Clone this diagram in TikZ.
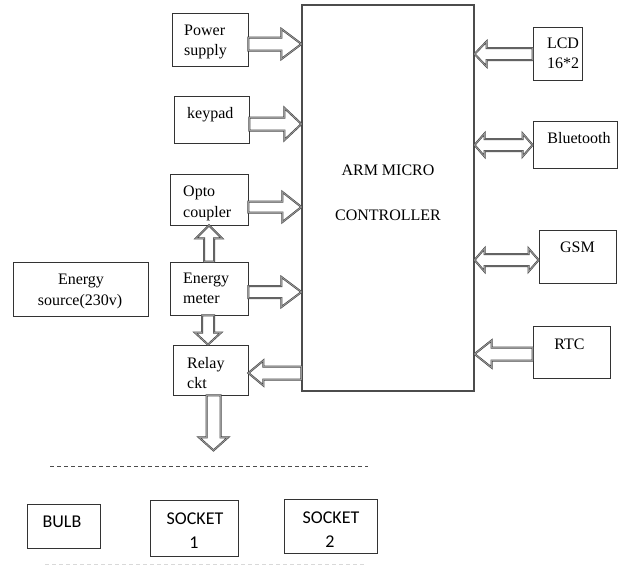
\documentclass[tikz,border=0pt]{standalone}
\usepackage{fontspec}
\usetikzlibrary{calc}
\setmainfont{Liberation Serif}
\newfontfamily\carlfont{Carlito}
\tikzset{
  box/.style={draw=black!80, line width=0.8pt, rectangle, inner sep=0pt, fill=white},
  ctrlbox/.style={draw=black!70, line width=1.1pt, rectangle, inner sep=0pt},
  txt/.style={inner sep=0pt, font=\rmfamily\fontsize{16}{20}\selectfont, text=black},
  ctxt/.style={inner sep=0pt, font=\carlfont\fontsize{18}{22}\selectfont, text=black},
  barrow/.style={draw=black!72, line width=0.6pt, double=black!40, double distance=0.8pt, line join=miter, fill=white},
}
% horizontal single block arrow: #1 tail, #2 tip, #3 signed head length offset, #4 head half width, #5 shaft half width
\newcommand\harrow[5]{\draw[barrow] ($(#1)+(0,-#5)$) -- ($(#2)+(#3,-#5)$) -- ($(#2)+(#3,-#4)$) -- (#2) -- ($(#2)+(#3,#4)$) -- ($(#2)+(#3,#5)$) -- ($(#1)+(0,#5)$) -- cycle;}
% horizontal double block arrow: #1 left tip, #2 right tip, #3 head length, #4 head half width, #5 shaft half width
\newcommand\hdarrow[5]{\draw[barrow] (#1) -- ($(#1)+(#3,-#4)$) -- ($(#1)+(#3,-#5)$) -- ($(#2)+(-#3,-#5)$) -- ($(#2)+(-#3,-#4)$) -- (#2) -- ($(#2)+(-#3,#4)$) -- ($(#2)+(-#3,#5)$) -- ($(#1)+(#3,#5)$) -- ($(#1)+(#3,#4)$) -- cycle;}
% vertical single block arrow
\newcommand\varrow[5]{\draw[barrow] ($(#1)+(-#5,0)$) -- ($(#2)+(-#5,#3)$) -- ($(#2)+(-#4,#3)$) -- (#2) -- ($(#2)+(#4,#3)$) -- ($(#2)+(#5,#3)$) -- ($(#1)+(#5,0)$) -- cycle;}
\begin{document}
\begin{tikzpicture}[x=1pt,y=-1pt]
\useasboundingbox (0,0) rectangle (632,565);

% boxes
\node[ctrlbox, minimum width=172pt, minimum height=386pt] (ctrl) at (388,198) {};
\node[box, minimum width=76pt, minimum height=53pt] (ps) at (210,39.5) {};
\node[box, minimum width=75pt, minimum height=47pt] (kp) at (211.5,119.5) {};
\node[box, minimum width=78pt, minimum height=51pt] (oc) at (209,199.5) {};
\node[box, minimum width=78pt, minimum height=53pt] (em) at (209,288.5) {};
\node[box, minimum width=75pt, minimum height=50pt] (rc) at (210.5,370) {};
\node[box, minimum width=135pt, minimum height=54pt] (es) at (80.5,289) {};
\node[box, minimum width=49pt, minimum height=53pt] (lcd) at (557.5,53.5) {};
\node[box, minimum width=84pt, minimum height=47pt] (bt) at (575,144.5) {};
\node[box, minimum width=77pt, minimum height=53pt] (gsm) at (577.5,256.5) {};
\node[box, minimum width=77pt, minimum height=52pt] (rtc) at (571.5,352) {};
\node[box, minimum width=73pt, minimum height=44pt] (bulb) at (63.5,526) {};
\node[box, minimum width=88pt, minimum height=56pt] (s1) at (194,528) {};
\node[box, minimum width=93pt, minimum height=54pt] (s2) at (330.5,526) {};

% texts
\node[txt, anchor=base] at (388,175) {ARM MICRO};
\node[txt, anchor=base] at (388,220) {CONTROLLER};
\node[txt, anchor=base west] at (184,35) {Power};
\node[txt, anchor=base west] at (184,55) {supply};
\node[txt, anchor=base west] at (187,118) {keypad};
\node[txt, anchor=base west] at (183,196) {Opto};
\node[txt, anchor=base west] at (183,217) {coupler};
\node[txt, anchor=base west] at (183,283) {Energy};
\node[txt, anchor=base west] at (183,303) {meter};
\node[txt, anchor=base west] at (187,368) {Relay};
\node[txt, anchor=base west] at (187,388) {ckt};
\node[txt, anchor=base] at (81,284) {Energy};
\node[txt, anchor=base] at (80,305) {source(230v)};
\node[txt, anchor=base] at (563,48) {LCD};
\node[txt, anchor=base] at (563,68) {16*2};
\node[txt, anchor=base] at (579,143) {Bluetooth};
\node[txt, anchor=base] at (577.5,252) {GSM};
\node[txt, anchor=base] at (569.5,349) {RTC};
\node[ctxt, anchor=base] at (62,527) {BULB};
\node[ctxt, anchor=base] at (195,524) {SOCKET};
\node[ctxt, anchor=base] at (194,548) {1};
\node[ctxt, anchor=base] at (331,523) {SOCKET};
\node[ctxt, anchor=base] at (330,547) {2};

% connector end points
\coordinate (a1s) at (ps.east |- 0,44);   \coordinate (a1e) at (ctrl.west |- 0,44);
\coordinate (a2s) at (kp.east |- 0,124);  \coordinate (a2e) at (ctrl.west |- 0,124);
\coordinate (a3s) at (oc.east |- 0,207);  \coordinate (a3e) at (ctrl.west |- 0,207);
\coordinate (a4s) at (em.east |- 0,292);  \coordinate (a4e) at (ctrl.west |- 0,292);
\coordinate (a5s) at (em.north);          \coordinate (a5e) at (em.north |- oc.south);
\coordinate (a6s) at ($(em.south)+(-1,0)$); \coordinate (a6e) at (a6s |- rc.north);
\coordinate (a7s) at ($(rc.south)+(3,0)$);  \coordinate (a7e) at ($(a7s)+(0,55)$);
\coordinate (a8s) at (ctrl.west |- 0,373); \coordinate (a8e) at (rc.east |- 0,373);
\coordinate (a9s) at (lcd.west |- 0,54);  \coordinate (a9e) at (ctrl.east |- 0,54);
\coordinate (b1l) at (ctrl.east |- 0,145); \coordinate (b1r) at (bt.west |- 0,145);
\coordinate (b2l) at (ctrl.east |- 0,260); \coordinate (b2r) at (gsm.west |- 0,260);
\coordinate (a10s) at (rtc.west |- 0,354); \coordinate (a10e) at (ctrl.east |- 0,354);

% block arrows
\harrow{a1s}{a1e}{-20}{15}{6.5}
\harrow{a2s}{a2e}{-17}{16}{6.5}
\harrow{a3s}{a3e}{-19}{15}{5.5}
\harrow{a4s}{a4e}{-20}{15}{6}
\varrow{a5s}{a5e}{13}{13}{5}
\varrow{a6s}{a6e}{-12}{13}{6}
\varrow{a7s}{a7e}{-13}{14.5}{7}
\harrow{a8s}{a8e}{15}{12.5}{6.5}
\harrow{a9s}{a9e}{12}{12.5}{6}
\hdarrow{b1l}{b1r}{10}{11.5}{6}
\hdarrow{b2l}{b2r}{10}{11.5}{6}
\harrow{a10s}{a10e}{17}{13.5}{6.5}

% dashed separators
\coordinate (d1) at (50,466); \coordinate (d2) at (368,466);
\draw[black!70, line width=0.8pt, dash pattern=on 4pt off 3pt] (d1) -- (d2);
\coordinate (d3) at (45,564); \coordinate (d4) at (365,564);
\draw[black!15, line width=0.8pt, dash pattern=on 4pt off 3pt] (d3) -- (d4);
\end{tikzpicture}
\end{document}
